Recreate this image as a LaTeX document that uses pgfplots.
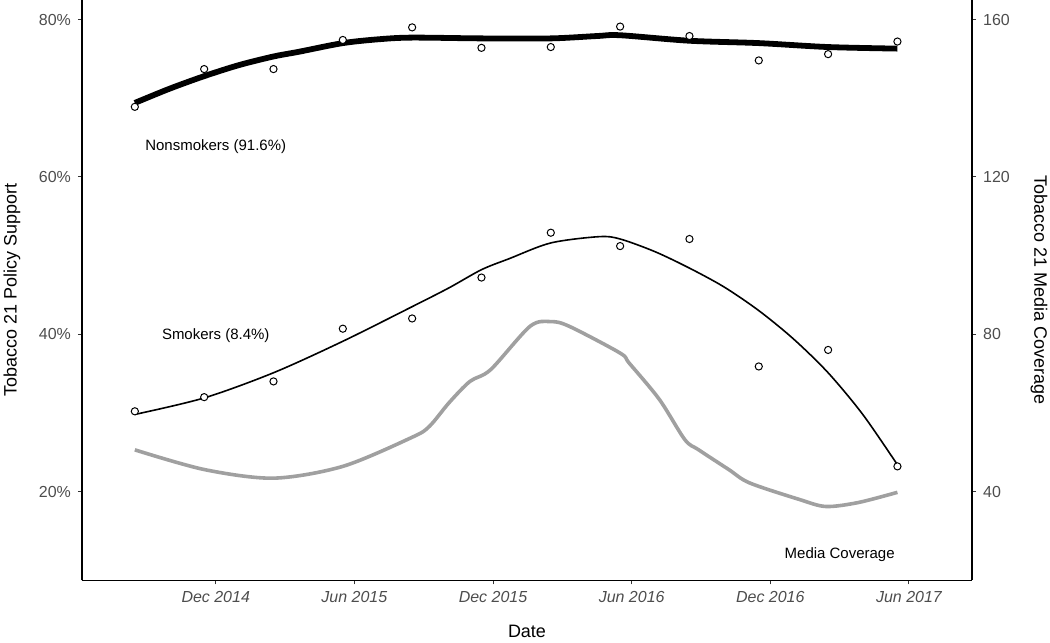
\documentclass[border=0pt]{standalone}
\usepackage{pgfplots}
\pgfplotsset{compat=1.18}
\usepackage{fontspec}
\setmainfont{Liberation Sans}
\definecolor{ticktext}{RGB}{77,77,77}
\definecolor{mediagray}{RGB}{160,160,160}

\pgfplotstableread{
x y
-3.5 68.9
-0.5 73.7
2.5 73.7
5.5 77.4
8.5 79.0
11.5 76.4
14.5 76.5
17.5 79.1
20.5 77.9
23.5 74.8
26.5 75.6
29.5 77.2
}\nonpts

\pgfplotstableread{
x y
-3.5 30.2
-0.5 32.0
2.5 34.0
5.5 40.7
8.5 42.0
11.5 47.2
14.5 52.9
17.5 51.2
20.5 52.1
23.5 35.9
26.5 38.0
29.5 23.2
}\smkpts

\pgfplotstableread{
x y
-3.5 69.4
-2.0 71.2
-0.5 72.8
1.0 74.2
2.5 75.3
3.6 75.9
5.5 77.0
7.1 77.5
8.5 77.7
11.5 77.6
14.5 77.6
16.5 77.9
17.5 78.0
20.5 77.3
23.5 77.0
26.5 76.5
29.5 76.3
}\nonline

\pgfplotstableread{
x y
-3.5 29.8
-0.5 31.9
2.5 35.1
5.5 39.1
8.5 43.5
10.1 45.9
11.5 48.2
12.7 49.6
14.5 51.6
16.6 52.4
17.5 52.1
19.0 50.5
20.5 48.4
22.0 46.0
23.5 43.0
25.0 39.4
26.5 35.1
28.0 29.8
29.5 23.4
}\smkline

\pgfplotstableread{
x y
-3.5 50.6
-0.5 45.6
2.5 43.4
5.5 46.4
8.5 53.8
9.25 56.6
10.1 62.6
11.0 68.0
11.9 71.0
13.6 82.0
14.5 83.2
15.3 82.0
17.5 75.2
17.9 72.6
19.2 63.4
20.3 53.2
20.9 50.6
22.2 45.6
23.1 42.2
25.25 38.0
26.4 36.2
27.8 37.2
29.5 39.8
}\mediatab

\begin{document}
\begin{tikzpicture}
\useasboundingbox (-41pt,-31pt) rectangle (484.5pt,290.5pt);
\pgfplotsset{
  common/.style={
    scale only axis, width=445.5pt, height=290.5pt,
    at={(0pt,0pt)}, anchor=south west,
    xmin=-5.79, xmax=32.73,
    axis line style={-, black, line width=0.6pt},
    tick align=outside, major tick length=2pt,
    tick style={black!80, line width=0.5pt},
    tick label style={font=\fontsize{8}{9.6}\selectfont, text=ticktext},
    label style={font=\fontsize{9}{10.8}\selectfont},
  }
}
\begin{axis}[common,
  axis x line*=bottom, axis y line*=left,
  ymin=8.7, ymax=82.48,
  xtick={0,6,12,18,24,30},
  xticklabels={Dec 2014, Jun 2015, Dec 2015, Jun 2016, Dec 2016, Jun 2017},
  xticklabel style={font=\fontsize{8}{9.6}\selectfont\itshape},
  ytick={20,40,60,80}, yticklabels={20\%,40\%,60\%,80\%},
  xlabel={Date}, ylabel={Tobacco 21 Policy Support},
  xlabel style={at={(axis description cs:0.5,-0.0878)}, anchor=center},
  ylabel style={at={(axis description cs:-0.0786,0.5)}, anchor=center},
]
\addplot[black, line width=2.9pt, smooth, tension=0.5, line cap=butt] table {\nonline};
\addplot[black, line width=0.8pt, smooth, tension=0.5] table {\smkline};
\addplot[only marks, mark=*, mark size=1.8pt, mark options={fill=white, draw=black, line width=0.5pt}] table {\nonpts};
\addplot[only marks, mark=*, mark size=1.8pt, mark options={fill=white, draw=black, line width=0.5pt}] table {\smkpts};
\node[font=\fontsize{7.5}{9}\selectfont] at (axis cs:0,63.8) {Nonsmokers (91.6\%)};
\node[font=\fontsize{7.5}{9}\selectfont] at (axis cs:0,39.8) {Smokers (8.4\%)};
\node[font=\fontsize{7.5}{9}\selectfont] at (axis cs:27,12.0) {Media Coverage};
\end{axis}
\begin{axis}[common,
  hide x axis, axis y line*=right,
  ymin=17.4, ymax=164.96,
  ytick={40,80,120,160}, yticklabels={40,80,120,160},
  ylabel={Tobacco 21 Media Coverage},
  ylabel style={at={(axis description cs:1.0752,0.5)}, anchor=center, rotate=180},
]
\addplot[mediagray, line width=1.8pt, smooth, tension=0.5] table {\mediatab};
\end{axis}
\end{tikzpicture}
\end{document}
